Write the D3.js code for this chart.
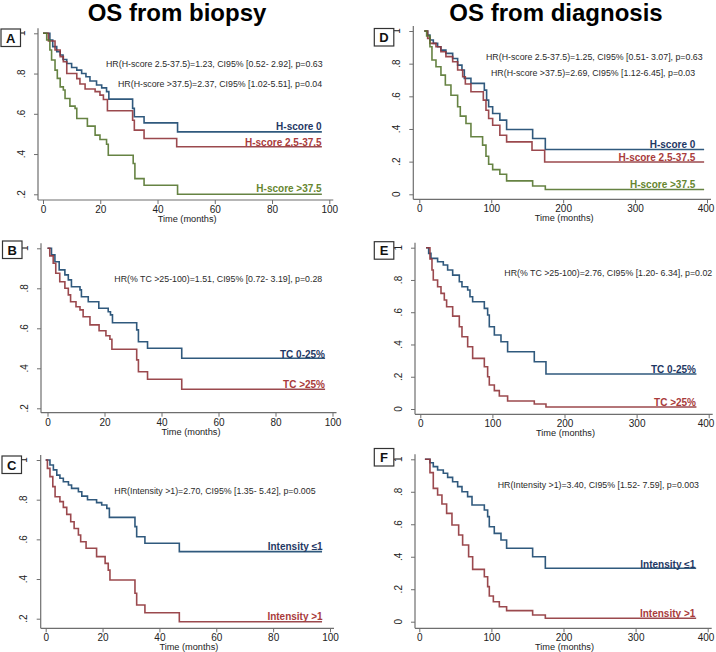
<!DOCTYPE html>
<html><head><meta charset="utf-8">
<script src="https://cdn.jsdelivr.net/npm/d3@7"></script>
<style>
body{margin:0;background:#fff}
svg{display:block}
text{font-family:"Liberation Sans",Arial,sans-serif}
</style>
</head><body>
<svg id="chart" width="716" height="652"></svg>
<script>
// ---------------- DATA ----------------
const columnTitles = ["OS from biopsy", "OS from diagnosis"];
const panelLetters = ["A", "B", "C", "D", "E", "F"];

const ticksBiopsyX = [0, 20, 40, 60, 80, 100];
const ticksDiagX = [0, 100, 200, 300, 400];
const ticksYFrom02 = [0.2, 0.4, 0.6, 0.8, 1];
const ticksYFrom0 = [0, 0.2, 0.4, 0.6, 0.8, 1];

// Panel A: H-score, OS from biopsy
const aHs0Time = [0, 2.4, 3.4, 4.8, 6, 7, 8.3, 10, 11.8, 13.5, 15, 16.4, 18.7, 20.5, 22.2, 23, 31.3, 31.9, 35.3, 47, 97.4];
const aHs0Surv = [1, .967, .934, .909, .892, .87, .85, .83, .817, .80, .784, .763, .743, .729, .71, .673, .627, .585, .555, .51, .51];
const aHsMidTime = [0, 1.9, 4.2, 6, 7.1, 8.3, 11.8, 12.9, 14.7, 18.2, 19.9, 21.1, 22.5, 31.3, 31.9, 35.3, 46.7, 97.4];
const aHsMidSurv = [1, .962, .917, .884, .859, .80, .775, .748, .723, .71, .693, .671, .615, .568, .519, .477, .436, .436];
const aHsHighTime = [0, 1.3, 2.4, 3, 4.2, 5, 6, 7.1, 7.7, 9.4, 11.2, 11.8, 15.5, 18.2, 19.9, 22.2, 22.8, 31.5, 32.1, 35.3, 47, 97.4];
const aHsHighSurv = [1, .967, .917, .867, .817, .776, .734, .718, .676, .638, .627, .577, .539, .494, .472, .449, .394, .353, .278, .245, .2, .2];

// Panel B: TC %, OS from biopsy
const bTcLowTime = [0, 1.4, 2.6, 4.1, 6.1, 7.3, 8.4, 11.4, 11.9, 14.3, 18, 21.3, 22.1, 22.8, 31.3, 31.9, 35.1, 47.1, 97.4];
const bTcLowSurv = [1, .967, .933, .892, .867, .842, .808, .792, .758, .733, .70, .683, .667, .628, .592, .533, .50, .45, .45];
const bTcHighTime = [0, .8, 2, 2.9, 4.3, 6.1, 7.3, 8.1, 10, 11.4, 12.5, 14.9, 18.1, 20.5, 21.9, 22.6, 31.3, 31.9, 35.1, 47.1, 97.4];
const bTcHighSurv = [1, .962, .925, .875, .833, .80, .767, .733, .708, .692, .658, .617, .588, .563, .545, .495, .442, .383, .345, .295, .295];

// Panel C: Intensity, OS from biopsy
const cIntLowTime = [0, 1.5, 2.7, 3.9, 5, 6.2, 8, 9.1, 11.5, 12.7, 14.7, 17.9, 19.7, 21.5, 22.4, 31.4, 32, 34.9, 47, 97.2];
const cIntLowSurv = [1, .975, .95, .924, .908, .89, .874, .857, .84, .818, .80, .785, .773, .756, .711, .664, .613, .58, .538, .538];
const cIntHighTime = [0, .6, 1.5, 2.5, 3.3, 5, 6.2, 7.4, 8.8, 10, 11.5, 12.3, 14.2, 17.9, 20.9, 22, 22.6, 31.4, 32, 34.9, 47, 97.2];
const cIntHighSurv = [1, .958, .916, .866, .815, .79, .761, .726, .689, .655, .622, .588, .555, .513, .479, .445, .395, .328, .269, .23, .185, .185];

// Panel D: H-score, OS from diagnosis
const dHs0Time = [7, 11.6, 14.8, 19.5, 25.5, 30, 37, 46.4, 53.3, 59.3, 62.6, 71.8, 90.4, 93.6, 96.4, 102, 112, 121.4, 157.6, 175.2, 396];
const dHs0Surv = [1, .975, .945, .924, .904, .883, .863, .832, .791, .761, .71, .679, .638, .577, .536, .495, .454, .397, .342, .274, .274];
const dHsMidTime = [7, 11.6, 14.8, 23.2, 30, 37, 46.4, 53.3, 60.3, 64, 71.8, 89, 92.7, 96.4, 102, 112, 121.4, 156.7, 174.3, 396];
const dHsMidSurv = [1, .955, .924, .904, .873, .843, .812, .761, .72, .675, .628, .577, .515, .464, .423, .362, .321, .27, .198, .198];
const dHsHighTime = [7, 10.2, 14.8, 17.6, 23.2, 30.1, 36.2, 44, 53.3, 57, 64.9, 71.8, 88, 92.7, 96.4, 102, 112, 121.4, 157.6, 175.2, 396];
const dHsHighSurv = [1, .969, .904, .822, .781, .73, .669, .607, .536, .479, .434, .352, .301, .233, .184, .151, .123, .082, .051, .029, .029];

// Panel E: TC %, OS from diagnosis
const eTcLowTime = [7.9, 11.6, 14.8, 24, 31.9, 37.9, 44.9, 54.1, 57.8, 65.7, 68.9, 72.6, 88.8, 93.4, 95.7, 102.7, 111.9, 121.1, 158.1, 174.3, 383];
const eTcLowSurv = [1, .965, .934, .913, .893, .862, .83, .789, .758, .738, .696, .665, .624, .583, .51, .459, .417, .355, .293, .217, .217];
const eTcHighTime = [7.9, 13.4, 16.2, 18, 24, 28.7, 33.3, 36.5, 44.9, 54.1, 57.8, 65.7, 72.6, 88.8, 93.4, 95.7, 102.7, 109.6, 121.1, 158.1, 174.3, 383];
const eTcHighSurv = [1, .93, .862, .80, .758, .717, .676, .634, .576, .51, .448, .386, .314, .262, .20, .149, .114, .081, .05, .031, .012, .012];

// Panel F: Intensity, OS from diagnosis
const fIntLowTime = [7.8, 14.8, 19.4, 25.4, 33.3, 39.3, 46.2, 53.2, 59.2, 67, 73.1, 90.2, 94.8, 97.1, 104, 113.3, 121.1, 157.2, 174.8, 384];
const fIntLowSurv = [1, .979, .955, .934, .914, .889, .862, .832, .80, .77, .719, .688, .647, .585, .544, .503, .452, .40, .329, .329];
const fIntHighTime = [7.8, 14.8, 19.4, 25.4, 31.4, 37.9, 45.3, 54.6, 60.1, 68.4, 74, 90.2, 94.8, 97.1, 102.7, 111, 121.1, 157.2, 174.8, 384];
const fIntHighSurv = [1, .918, .821, .78, .725, .667, .595, .534, .472, .40, .322, .277, .216, .158, .123, .092, .068, .041, .021, .021];

const hrTextA = ["HR(H-score 2.5-37.5)=1.23, CI95% [0.52- 2.92], p=0.63", "HR(H-score >37.5)=2.37, CI95% [1.02-5.51], p=0.04"];
const hrTextB = ["HR(% TC >25-100)=1.51, CI95% [0.72- 3.19], p=0.28"];
const hrTextC = ["HR(Intensity >1)=2.70, CI95% [1.35- 5.42], p=0.005"];
const hrTextD = ["HR(H-score 2.5-37.5)=1.25, CI95% [0.51- 3.07], p=0.63", "HR(H-score >37.5)=2.69, CI95% [1.12-6.45], p=0.03"];
const hrTextE = ["HR(% TC >25-100)=2.76, CI95% [1.20- 6.34], p=0.02"];
const hrTextF = ["HR(Intensity >1)=3.40, CI95% [1.52- 7.59], p=0.003"];

const hsLabels = ["H-score 0", "H-score 2.5-37.5", "H-score >37.5"];
const tcLabels = ["TC 0-25%", "TC >25%"];
const intLabels = ["Intensity \u22641", "Intensity >1"];
const xAxisTitle = "Time (months)";

// ---------------- STYLE / LAYOUT ----------------
const lineColors = {blue: "#1a476f", red: "#90353b", green: "#55752f"};
const labelColors = {blue: "#1f3864", red: "#a93b3b", green: "#66862f"};

const panels = [
  {letter: panelLetters[0], xTicks: ticksBiopsyX, yTicks: ticksYFrom02,
   px: {x0: 43, x1: 329.3, xMax: 100, yHi: 33.3, yLo: 194.3, yLoVal: 0.2, axisX: 38, axisY: 200},
   box: [1, 29], hr: hrTextA, hrPos: [[106, 67], [118, 87]],
   curves: [
     {t: aHs0Time, s: aHs0Surv, c: "blue", label: hsLabels[0], ly: 129.5},
     {t: aHsMidTime, s: aHsMidSurv, c: "red", label: hsLabels[1], ly: 146.2},
     {t: aHsHighTime, s: aHsHighSurv, c: "green", label: hsLabels[2], ly: 191.8}],
   labelRight: 321.7},
  {letter: panelLetters[1], xTicks: ticksBiopsyX, yTicks: ticksYFrom02,
   px: {x0: 47.5, x1: 332.5, xMax: 100, yHi: 248.3, yLo: 408.3, yLoVal: 0.2, axisX: 41, axisY: 412.7},
   box: [2.5, 241], hr: hrTextB, hrPos: [[114.3, 282.3]],
   curves: [
     {t: bTcLowTime, s: bTcLowSurv, c: "blue", label: tcLabels[0], ly: 357.5},
     {t: bTcHighTime, s: bTcHighSurv, c: "red", label: tcLabels[1], ly: 387.5}],
   labelRight: 325},
  {letter: panelLetters[2], xTicks: ticksBiopsyX, yTicks: ticksYFrom02,
   px: {x0: 45.7, x1: 330, xMax: 100, yHi: 460, yLo: 618.7, yLoVal: 0.2, axisX: 40.7, axisY: 628.3},
   box: [2, 456], hr: hrTextC, hrPos: [[114.3, 494]],
   curves: [
     {t: cIntLowTime, s: cIntLowSurv, c: "blue", label: intLabels[0], ly: 550.2},
     {t: cIntHighTime, s: cIntHighSurv, c: "red", label: intLabels[1], ly: 619.5}],
   labelRight: 322.7},
  {letter: panelLetters[3], xTicks: ticksDiagX, yTicks: ticksYFrom0,
   px: {x0: 419.3, x1: 707, xMax: 400, yHi: 31, yLo: 194.3, yLoVal: 0, axisX: 413.3, axisY: 199.3},
   box: [374.3, 28.5], hr: hrTextD, hrPos: [[486, 59.7], [491, 76.3]],
   curves: [
     {t: dHs0Time, s: dHs0Surv, c: "blue", label: hsLabels[0], ly: 147.8},
     {t: dHsMidTime, s: dHsMidSurv, c: "red", label: hsLabels[1], ly: 160.8},
     {t: dHsHighTime, s: dHsHighSurv, c: "green", label: hsLabels[2], ly: 187.8}],
   labelRight: 695.3},
  {letter: panelLetters[4], xTicks: ticksDiagX, yTicks: ticksYFrom0,
   px: {x0: 420.3, x1: 708.7, xMax: 400, yHi: 247.7, yLo: 409, yLoVal: 0, axisX: 415, axisY: 414.3},
   box: [374.3, 241.7], hr: hrTextE, hrPos: [[504.3, 276.3]],
   curves: [
     {t: eTcLowTime, s: eTcLowSurv, c: "blue", label: tcLabels[0], ly: 372.5},
     {t: eTcHighTime, s: eTcHighSurv, c: "red", label: tcLabels[1], ly: 406.2}],
   labelRight: 696},
  {letter: panelLetters[5], xTicks: ticksDiagX, yTicks: ticksYFrom0,
   px: {x0: 419.3, x1: 707.7, xMax: 400, yHi: 459.3, yLo: 621.7, yLoVal: 0, axisX: 415, axisY: 628.3},
   box: [374.3, 448.5], hr: hrTextF, hrPos: [[497.7, 488]],
   curves: [
     {t: fIntLowTime, s: fIntLowSurv, c: "blue", label: intLabels[0], ly: 567.8},
     {t: fIntHighTime, s: fIntHighSurv, c: "red", label: intLabels[1], ly: 616.8}],
   labelRight: 695.3}
];

const svg = d3.select("#chart");
svg.append("rect").attr("width", 716).attr("height", 652).attr("fill", "#fff");

// column titles
svg.append("text").attr("x", 177).attr("y", 21).attr("text-anchor", "middle")
  .attr("font-size", 24).attr("font-weight", "bold").attr("fill", "#000").text(columnTitles[0]);
svg.append("text").attr("x", 556).attr("y", 21).attr("text-anchor", "middle")
  .attr("font-size", 24).attr("font-weight", "bold").attr("fill", "#000").text(columnTitles[1]);

const fmtY = d => d === 0 ? "0" : d === 1 ? "1" : d3.format(".1f")(d).replace(/^0/, "");
const axisColor = "#6e6e6e";

panels.forEach(p => {
  const g = svg.append("g");
  const P = p.px;
  const x = d3.scaleLinear().domain([0, P.xMax]).range([P.x0, P.x1]);
  const y = d3.scaleLinear().domain([P.yLoVal, 1]).range([P.yLo, P.yHi]);

  // axes lines
  g.append("line").attr("x1", P.axisX).attr("x2", P.axisX)
    .attr("y1", y(1) - 5).attr("y2", P.axisY)
    .attr("stroke", axisColor).attr("stroke-width", 1.2);
  g.append("line").attr("x1", P.axisX).attr("x2", x(P.xMax) + 4)
    .attr("y1", P.axisY).attr("y2", P.axisY)
    .attr("stroke", axisColor).attr("stroke-width", 1.2);

  // y ticks
  const yAxis = d3.axisLeft(y).tickValues(p.yTicks).tickSize(4).tickFormat("");
  const ya = g.append("g").attr("transform", `translate(${P.axisX},0)`).call(yAxis);
  ya.select(".domain").remove();
  ya.selectAll(".tick line").attr("stroke", axisColor).attr("stroke-width", 1);
  p.yTicks.forEach(v => {
    g.append("text").attr("transform", `translate(${P.axisX - 17},${y(v)}) rotate(-90)`)
      .attr("text-anchor", "middle").attr("dy", "0.35em")
      .attr("font-size", 10).attr("fill", "#222").text(fmtY(v));
  });

  // x ticks
  const xAxis = d3.axisBottom(x).tickValues(p.xTicks).tickSize(4).tickFormat(d3.format("d"));
  const xa = g.append("g").attr("transform", `translate(0,${P.axisY})`).call(xAxis);
  xa.select(".domain").remove();
  xa.selectAll(".tick line").attr("stroke", axisColor).attr("stroke-width", 1);
  xa.selectAll(".tick text").attr("y", 6).attr("dy", "0.71em")
    .attr("font-size", 10).attr("fill", "#222")
    .attr("font-family", '"Liberation Sans",Arial,sans-serif')
    .attr("x", d => Math.min(0, 714 - 8.5 - x(d)));

  g.append("text").attr("x", (P.x0 + P.x1) / 2 + 1).attr("y", P.axisY + 22)
    .attr("text-anchor", "middle").attr("font-size", 9.2).attr("fill", "#222").text(xAxisTitle);

  // curves
  const line = d3.line().x(d => x(d[0])).y(d => y(d[1])).curve(d3.curveStepAfter);
  p.curves.forEach(cv => {
    const pts = cv.t.map((t, i) => [t, cv.s[i]]);
    g.append("path").attr("d", line(pts)).attr("fill", "none")
      .attr("stroke", lineColors[cv.c]).attr("stroke-width", 1.6)
      .attr("stroke-opacity", 0.9);
  });

  // series labels
  p.curves.forEach(cv => {
    g.append("text").attr("x", p.labelRight).attr("y", cv.ly).attr("text-anchor", "end")
      .attr("font-size", 10).attr("font-weight", "bold").attr("fill", labelColors[cv.c]).text(cv.label);
  });

  // HR text
  p.hr.forEach((t, i) => {
    g.append("text").attr("x", p.hrPos[i][0]).attr("y", p.hrPos[i][1])
      .attr("font-size", 8.8).attr("fill", "#2a2a2a").text(t);
  });

  // panel letter box
  g.append("rect").attr("x", p.box[0]).attr("y", p.box[1]).attr("width", 19.5).attr("height", 17.5)
    .attr("fill", "#fff").attr("stroke", "#333").attr("stroke-width", 1.2);
  g.append("text").attr("x", p.box[0] + 9.75).attr("y", p.box[1] + 13.5).attr("text-anchor", "middle")
    .attr("font-size", 13).attr("font-weight", "bold").attr("fill", "#111").text(p.letter);
});
</script>
</body></html>
